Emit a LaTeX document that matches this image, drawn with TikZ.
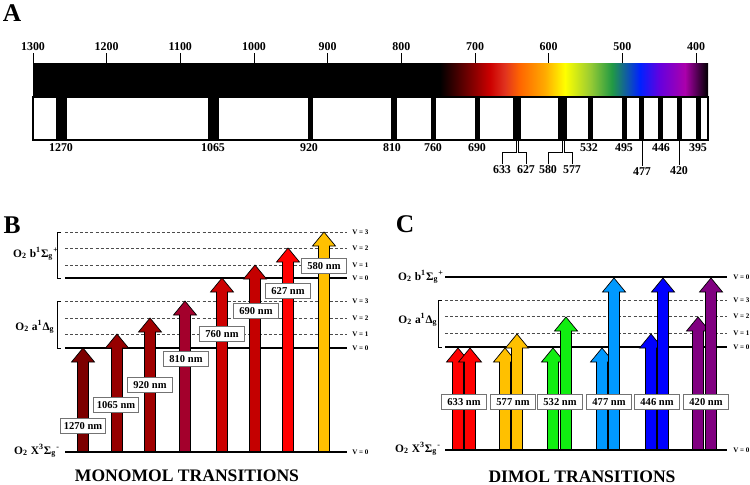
\documentclass[tikz,border=0pt]{standalone}
\usepackage{fontspec}
\setmainfont{Liberation Serif}
\usetikzlibrary{positioning}

\definecolor{c1270}{HTML}{7C0000}
\definecolor{c1065}{HTML}{960000}
\definecolor{c920}{HTML}{A00000}
\definecolor{c810}{HTML}{A3002C}
\definecolor{c760}{HTML}{CC0000}
\definecolor{c690}{HTML}{C40000}
\definecolor{c627}{HTML}{FF0000}
\definecolor{c580}{HTML}{FFC000}
\definecolor{c633}{HTML}{FF0000}
\definecolor{c577}{HTML}{FFC000}
\definecolor{c532}{HTML}{11EE11}
\definecolor{c477}{HTML}{0099FF}
\definecolor{c446}{HTML}{0000FF}
\definecolor{c420}{HTML}{800080}

\pgfdeclarehorizontalshading{spectrum}{100bp}{rgb(0bp)=(0,0,0); rgb(25bp)=(0,0,0);
  rgb(31.5bp)=(0.55,0,0); rgb(34.3bp)=(0.8,0,0); rgb(37.1bp)=(0.88,0.2,0.12);
  rgb(39.9bp)=(1,0.4,0); rgb(44.6bp)=(1,0.67,0); rgb(48.3bp)=(1,1,0);
  rgb(53bp)=(0.6,0.8,0.2); rgb(57.1bp)=(0.13,0.6,0.27); rgb(62.3bp)=(0,0.13,1);
  rgb(66bp)=(0.4,0,0.87); rgb(70.7bp)=(0.67,0,0.67); rgb(75bp)=(0,0,0); rgb(100bp)=(0,0,0)}

% one upward transition arrow: x, base y, tip y, colour
\newcommand\transarrow[4]{%
  \filldraw[arrowbody, fill=#4] (#1-5.5,#2) -- (#1-5.5,#3+14) -- (#1-11.5,#3+14) -- (#1,#3)
    -- (#1+11.5,#3+14) -- (#1+5.5,#3+14) -- (#1+5.5,#2) -- cycle;}

\begin{document}
\begin{tikzpicture}[x=0.02cm, y=-0.02cm,
    num/.style={font=\fontsize{6.8}{8}\selectfont\bfseries, inner sep=1pt},
    lvl/.style={line width=1.1pt},
    sub/.style={dash pattern=on 1.7pt off 1.2pt, line width=0.4pt, black!70},
    vlab/.style={font=\fontsize{4}{5}\selectfont\bfseries, anchor=west, inner sep=0pt},
    state/.style={font=\fontsize{6.5}{8}\selectfont\bfseries, inner sep=0pt},
    nmbox/.style={draw=black!55, fill=white, line width=0.5pt, font=\fontsize{6}{7}\selectfont\bfseries,
      minimum width=0.9cm, minimum height=0.3cm, inner sep=1pt},
    panel/.style={font=\fontsize{14.5}{16}\selectfont\bfseries},
    title/.style={font=\fontsize{10}{12}\selectfont\bfseries},
    arrowbody/.style={draw=black, line width=0.4pt, line join=miter}]
  \useasboundingbox (0,0) rectangle (750,484);

  % A: spectrum with absorption lines
  \node[panel] (pA) at (12,13) {A};
  \fill[black] (33,63) rectangle (440,97);
  \shade[shading=spectrum] (440,63) rectangle (708,97);
  \foreach \l in {1300,1200,...,400} {
    \pgfmathsetmacro\xx{33+(1300-\l)*0.7367}
    \draw (\xx,53) -- (\xx,63);
    \node[num] (t\l) at (\xx,47) {\l};
  }
  \foreach \a/\b in {55.7/67.3,208/219,308/313,391/397,431/436,475/480,513/521,
                     558/567,588/593,622/627,639/644,658/663,677/682,696/701}
    \fill (\a,97) rectangle (\b,140);
  \draw[line width=1pt] (33,97) rectangle (708,140);
  \foreach \w/\x in {1270/61,1065/213,920/309,810/392,760/433,690/477,532/589,495/624,446/661,395/698}
    \node[num] (w\w) at (\x,148) {\w};
  \node[num] (w477) at (642,172) {477};
  \node[num] (w420) at (679,171) {420};
  \draw (642,140) -- (w477.north);
  \draw (679,140) -- (w420.north);
  \node[num] (w633) at (502,170) {633};
  \node[num] (w627) at (526,170) {627};
  \node[num] (w580) at (548,170) {580};
  \node[num] (w577) at (572,170) {577};
  \draw (516,140) -- (516,152) -| (w633.north);
  \draw (518,140) -- (518,152) -| (w627.north);
  \draw (562,140) -- (562,152) -| (w580.north);
  \draw (564,140) -- (564,152) -| (w577.north);

  % B: monomol transitions
  \node[panel] (pB) at (12,225) {B};
  \foreach \y in {232,248,265,301,318,334} \draw[sub] (65,\y) -- (347,\y);
  \foreach \y in {278,348} \draw[lvl] (65,\y) -- (347,\y);
  \foreach \y/\v in {232/3,248/2,265/1,278/0,301/3,318/2,334/1,348/0,452/0}
    \node[vlab] (vB\y) at (352,\y) {V = \v};
  \draw[line width=0.5pt] (61,232) -| (57,278) -- (61,278);
  \draw[line width=0.5pt] (61,301) -| (57,348) -- (61,348);
  \node[state] (bB) at (36,254) {O\textsubscript{2} b\textsuperscript{1}Σ\textsubscript{g}\textsuperscript{+}};
  \node[state] (aB) at (35,327) {O\textsubscript{2} a\textsuperscript{1}Δ\textsubscript{g}};
  \node[state] (xB) at (37,451) {O\textsubscript{2} X\textsuperscript{3}Σ\textsubscript{g}\textsuperscript{-}};
  \foreach \x/\t/\w in {83/348/1270,117/334/1065,150/318/920,185/301/810,
                        222/278/760,255/265/690,288/248/627,324/232/580}
    \transarrow{\x}{452}{\t}{c\w};
  \draw[lvl] (65,452) -- (347,452);
  \foreach \w/\x/\y in {1270/83/426,1065/116/405,920/150/385,810/186/359,
                        760/222/334,690/256/311,627/288/291,580/324/266}
    \node[nmbox] (nm\w) at (\x,\y) {\w~nm};
  \node[title] (tB) at (187,476) {MONOMOL TRANSITIONS};

  % C: dimol transitions
  \node[panel] (pC) at (405,224) {C};
  \foreach \y in {300,316,333} \draw[sub] (445,\y) -- (727,\y);
  \foreach \y in {277,347} \draw[lvl] (445,\y) -- (727,\y);
  \foreach \y/\v in {277/0,300/3,316/2,333/1,347/0,450/0}
    \node[vlab] (vC\y) at (733,\y) {V = \v};
  \draw[line width=0.5pt] (442,300) -| (438,347) -- (442,347);
  \node[state] (bC) at (421,277) {O\textsubscript{2} b\textsuperscript{1}Σ\textsubscript{g}\textsuperscript{+}};
  \node[state] (aC) at (418,320) {O\textsubscript{2} a\textsuperscript{1}Δ\textsubscript{g}};
  \node[state] (xC) at (418,449) {O\textsubscript{2} X\textsuperscript{3}Σ\textsubscript{g}\textsuperscript{-}};
  \foreach \xl/\tl/\xr/\tr/\w in {458/348/470/348/633,505/348/517/334/577,553/348/566/317/532,
                                  602/348/614/278/477,651/334/663/278/446,698/317/711/278/420} {
    \transarrow{\xl}{450}{\tl}{c\w}
    \transarrow{\xr}{450}{\tr}{c\w}
  }
  \draw[lvl] (445,450) -- (727,450);
  \foreach \w/\x in {633/464,577/513,532/560,477/609,446/657,420/706}
    \node[nmbox] (nd\w) at (\x,402) {\w~nm};
  \node[title] (tC) at (582,477) {DIMOL TRANSITIONS};
\end{tikzpicture}
\end{document}
